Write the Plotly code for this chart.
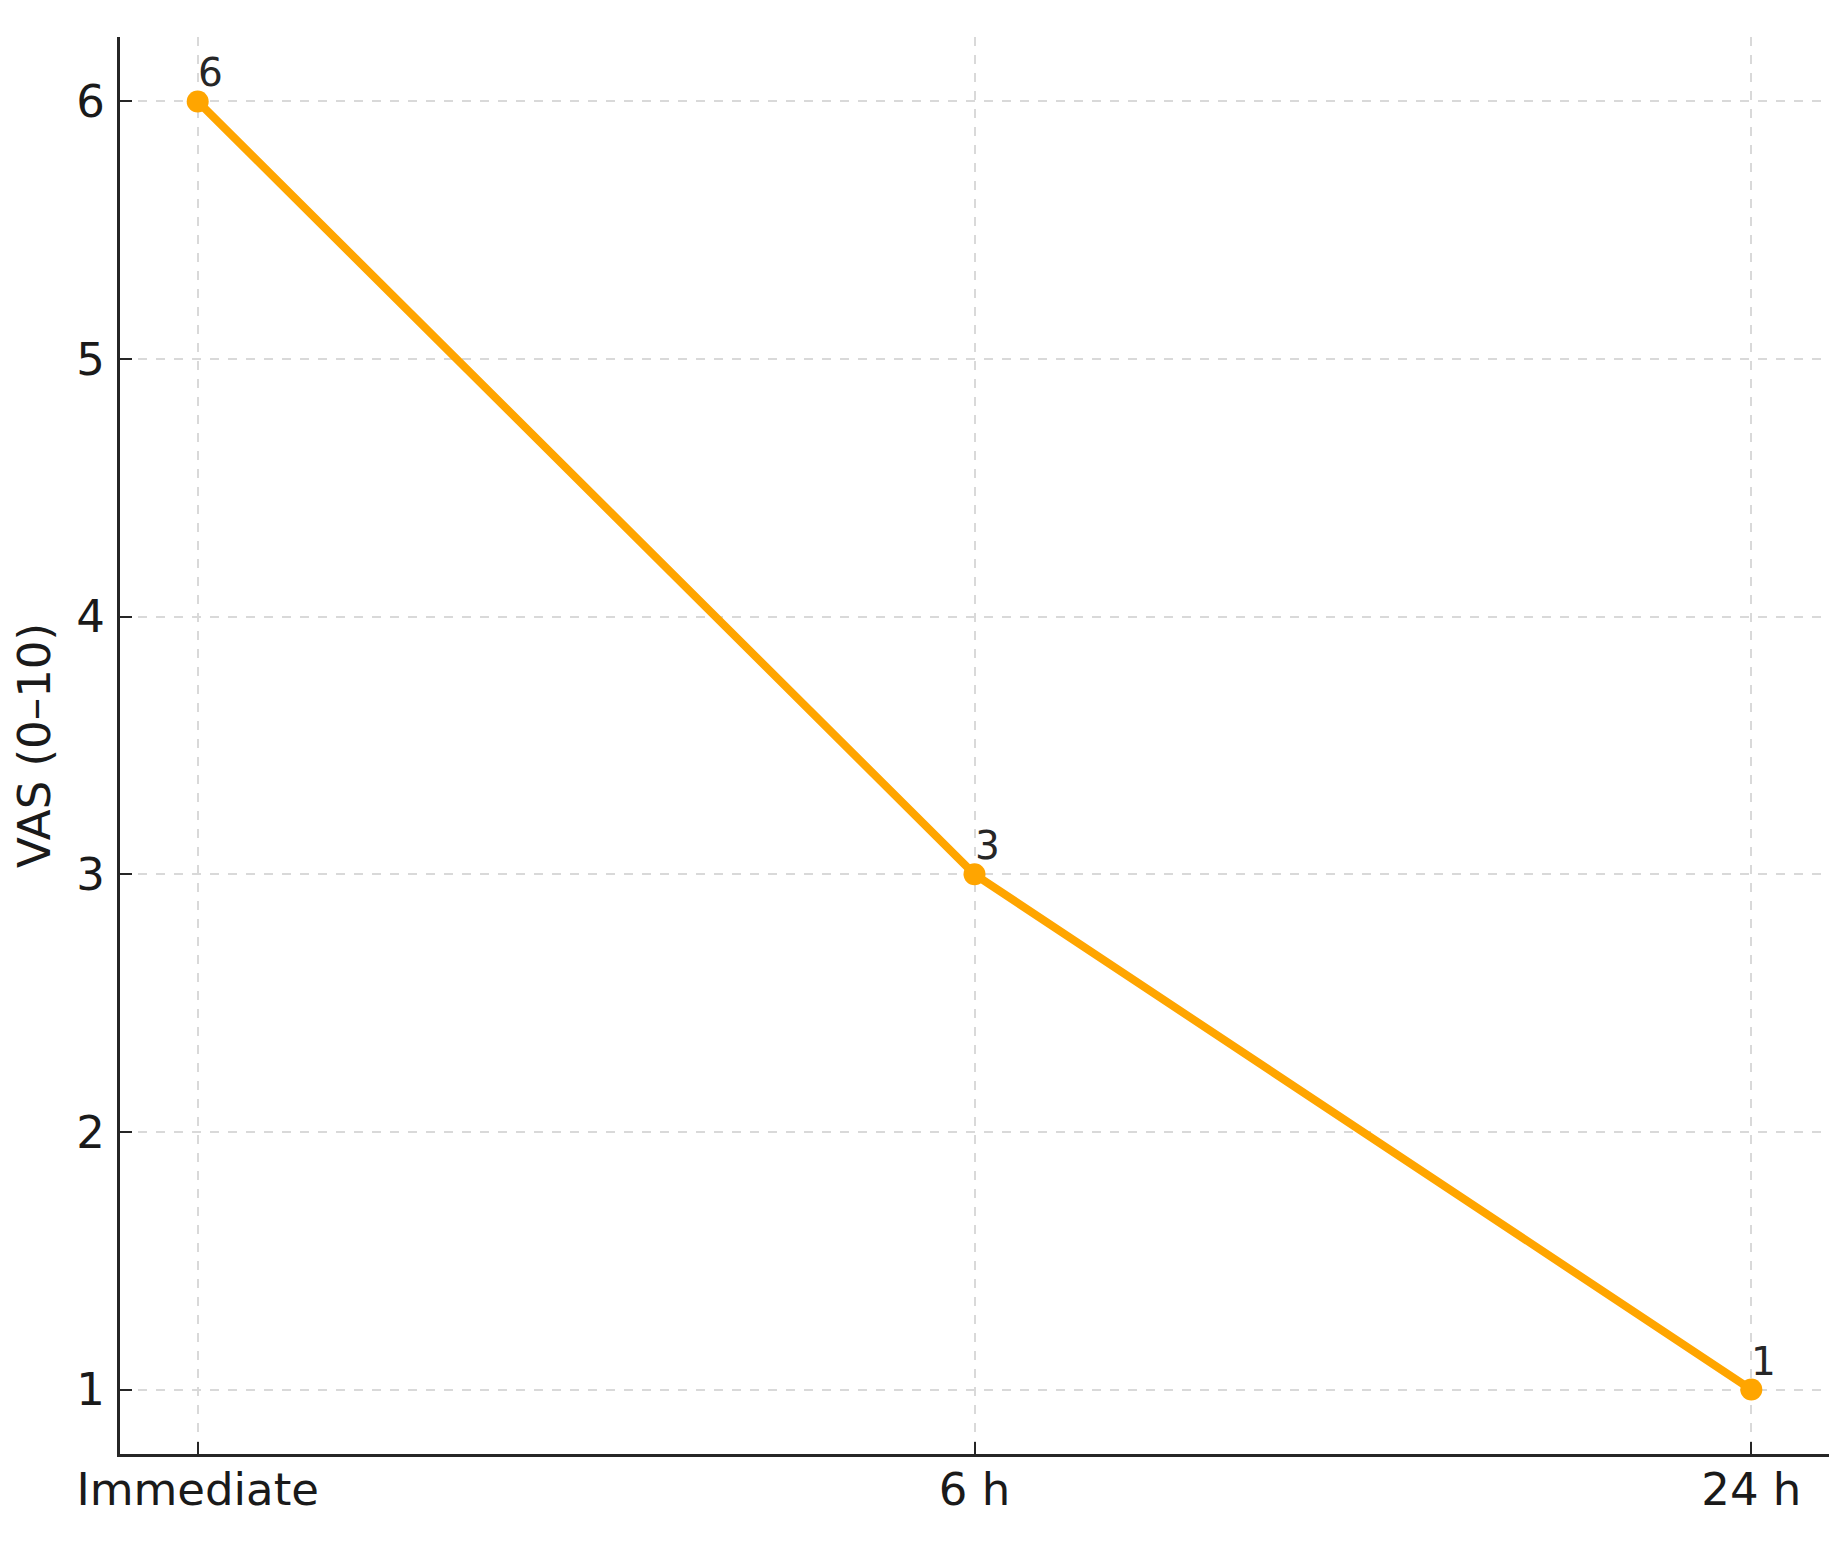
import plotly.graph_objects as go

categories = ["Immediate", "6 h", "24 h"]
vas_values = [6, 3, 1]
y_ticks = [1, 2, 3, 4, 5, 6]

FONT = "DejaVu Sans"
x_idx = list(range(len(categories)))

fig = go.Figure()
fig.add_trace(go.Scatter(
    x=x_idx, y=vas_values, mode="lines+markers",
    line=dict(color="#FFA500", width=8),
    marker=dict(color="#FFA500", size=22),
    showlegend=False, hoverinfo="skip",
))

for xi, v in zip(x_idx, vas_values):
    fig.add_annotation(
        x=xi, y=v, text=str(v), showarrow=False,
        xanchor="left", yanchor="bottom", xshift=-2, yshift=4,
        font=dict(family=FONT, size=39, color="#262626"),
    )

axis_common = dict(
    showline=True, linecolor="#262626", linewidth=3,
    ticks="inside", ticklen=12, tickwidth=2, tickcolor="#262626",
    showgrid=True, gridcolor="#d9d9d9", griddash="dash", gridwidth=1.5,
    zeroline=False, mirror=False,
    tickfont=dict(family=FONT, size=45, color="#1a1a1a"),
)

fig.update_layout(
    width=1844, height=1546,
    margin=dict(l=109, r=23, t=29, b=100),
    paper_bgcolor="white", plot_bgcolor="white",
    xaxis=dict(
        **axis_common,
        tickmode="array", tickvals=x_idx, ticktext=categories,
        range=[-0.1, 2.1], ticklabelstandoff=-6,
    ),
    yaxis=dict(
        **axis_common,
        tickmode="array", tickvals=y_ticks,
        range=[0.75, 6.25], ticklabelstandoff=3,
        title=dict(text="VAS (0–10)", font=dict(family=FONT, size=45, color="#1a1a1a"), standoff=25),
    ),
)

fig.write_html("out.html")
